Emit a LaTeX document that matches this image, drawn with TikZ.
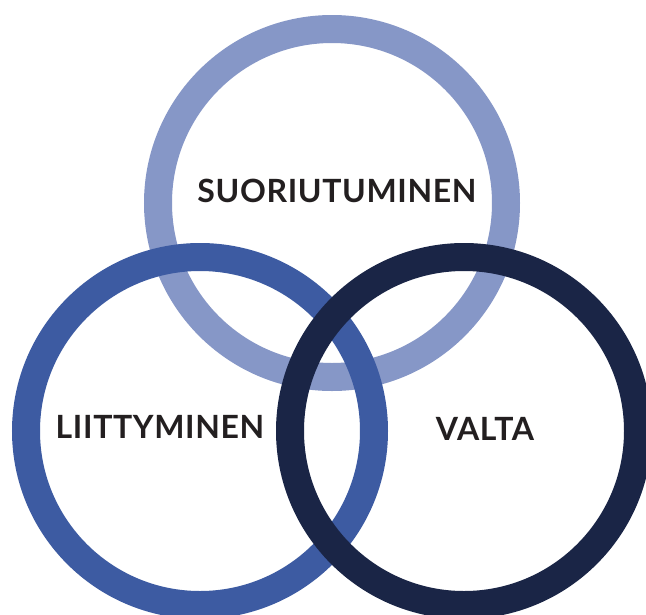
\documentclass[tikz,border=0pt]{standalone}
\usepackage{fontspec}
\setmainfont{Lato}
\newfontfamily\lblfont{Lato}[LetterSpace=2]
\definecolor{ringlight}{HTML}{8697C7}
\definecolor{ringmid}{HTML}{3D5BA2}
\definecolor{ringdark}{HTML}{1A2546}
\definecolor{textdark}{HTML}{231F20}
\tikzset{
  ring/.style={circle, minimum size=348pt, inner sep=0pt, line width=28pt},
  lbl/.style={font=\lblfont\bfseries\fontsize{32}{32}\selectfont, text=textdark, inner sep=0pt, anchor=center}
}
\begin{document}
\begin{tikzpicture}[x=1pt,y=-1pt]
  \useasboundingbox (0,0) rectangle (646,614);
  \clip (0,0) rectangle (646,614);
  \fill[white] (0,0) rectangle (646,614);
  \node[ring, draw=ringlight] (suo) at (332,203) {};
  \node[ring, draw=ringmid] (lii) at (200,431) {};
  \node[ring, draw=ringdark] (val) at (464,431) {};
  \node[lbl] (tsuo) at (337,191) {SUORIUTUMINEN};
  \node[lbl] (tlii) at (160,427) {LIITTYMINEN};
  \node[lbl] (tval) at (485,429) {VALTA};
\end{tikzpicture}
\end{document}
